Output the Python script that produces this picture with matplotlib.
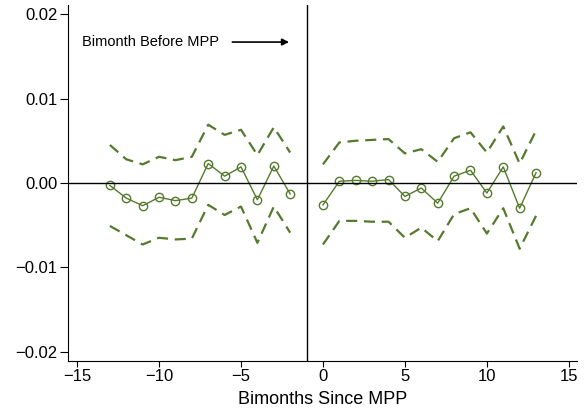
import matplotlib.pyplot as plt
import numpy as np

plt.rcParams['font.family'] = ['Liberation Sans', 'DejaVu Sans']

# event-time estimates
pre_x = list(range(-13, -1))
pre_coef = [-0.0003, -0.0018, -0.0027, -0.0017, -0.0021, -0.0018,
            0.0023, 0.0008, 0.0019, -0.0020, 0.0020, -0.0013]
pre_hi = [0.0045, 0.0028, 0.0022, 0.0031, 0.0027, 0.0031,
          0.0069, 0.0057, 0.0063, 0.0033, 0.0066, 0.0036]
pre_lo = [-0.0051, -0.0062, -0.0073, -0.0065, -0.0067, -0.0066,
          -0.0026, -0.0038, -0.0028, -0.0071, -0.0028, -0.0059]

post_x = list(range(0, 14))
post_coef = [-0.0026, 0.0002, 0.0003, 0.0002, 0.0004, -0.0016, -0.0006,
             -0.0024, 0.0008, 0.0015, -0.0012, 0.0019, -0.0030, 0.0012]
post_hi = [0.0022, 0.0048, 0.0050, 0.0051, 0.0052, 0.0035, 0.0040,
           0.0025, 0.0053, 0.0060, 0.0036, 0.0067, 0.0023, 0.0062]
post_lo = [-0.0073, -0.0045, -0.0045, -0.0046, -0.0046, -0.0065, -0.0053,
           -0.0069, -0.0037, -0.0030, -0.0060, -0.0030, -0.0078, -0.0039]

green = '#557a2e'

fig = plt.figure(figsize=(5.87, 4.12), dpi=100)
ax = fig.add_axes([0.116, 0.124, 0.867, 0.864])

for xs, c, hi, lo in [(pre_x, pre_coef, pre_hi, pre_lo),
                      (post_x, post_coef, post_hi, post_lo)]:
    ax.plot(xs, hi, color=green, linestyle=(0, (5, 3)), lw=1.6)
    ax.plot(xs, lo, color=green, linestyle=(0, (5, 3)), lw=1.6)
    ax.plot(xs, c, color=green, lw=1.0, marker='o', markersize=6,
            markerfacecolor='none', markeredgecolor=green, markeredgewidth=1.0)

ax.axhline(0, color='black', lw=1.0)
ax.axvline(-1, color='black', lw=1.0)

ax.annotate('', xy=(-1.9, 0.0167), xytext=(-5.7, 0.0167),
            arrowprops=dict(arrowstyle='-|>', color='black', lw=1.2,
                            mutation_scale=10))
ax.text(-14.7, 0.0167, 'Bimonth Before MPP', fontsize=10.5, va='center', ha='left')

ax.set_xlim(-15.55, 15.5)
ax.set_ylim(-0.0211, 0.0211)
ax.set_xticks([-15, -10, -5, 0, 5, 10, 15])
ax.set_yticks([-0.02, -0.01, 0.0, 0.01, 0.02])
ax.set_yticklabels(['\u22120.02', '\u22120.01', '0.00', '0.01', '0.02'])
ax.set_xticklabels(['\u221215', '\u221210', '\u22125', '0', '5', '10', '15'])
ax.tick_params(axis='x', labelsize=12, length=4, width=0.8, pad=2)
ax.tick_params(axis='y', labelsize=12, length=6, width=0.8, pad=1.5)
ax.set_xlabel('Bimonths Since MPP', fontsize=13, labelpad=5)

ax.spines['top'].set_visible(False)
ax.spines['right'].set_visible(False)

fig.savefig('out.png', dpi=100)
